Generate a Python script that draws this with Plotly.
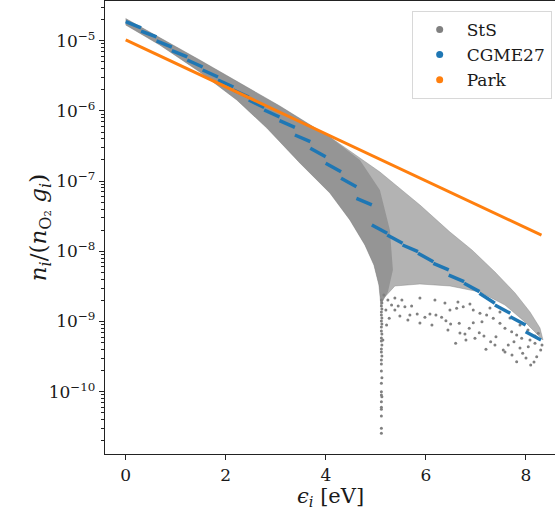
import numpy as np
import plotly.graph_objects as go

# ---------------- data ----------------
# StS cloud: outline of the dense region (energy eV, log10 population)
sts_upper_eps = [0.00, 1.48, 3.08, 4.08, 5.08, 5.88, 6.48, 6.92, 7.38, 7.78, 8.08, 8.28, 8.34]
sts_upper_log = [-4.684, -5.275, -5.930, -6.372, -6.870, -7.340, -7.725, -7.981, -8.294, -8.593, -8.864, -9.093, -9.264]
sts_lowright_eps = [7.98, 7.58, 7.08, 6.48, 5.88, 5.38, 5.16, 5.10]
sts_lowright_log = [-9.007, -8.765, -8.580, -8.494, -8.466, -8.494, -8.665, -8.765]
sts_lower_eps = [5.06, 4.96, 4.78, 4.48, 4.08, 3.48, 2.82, 2.22, 1.48, 0.68, 0.00]
sts_lower_log = [-8.480, -8.195, -7.910, -7.554, -7.170, -6.742, -6.244, -5.845, -5.446, -5.061, -4.776]
# denser core of the StS cloud (right edge of the core)
sts_core_eps = [4.68, 5.08, 5.28, 5.34, 5.24, 5.10]
sts_core_log = [-6.700, -7.127, -7.697, -8.267, -8.580, -8.765]
# isolated StS states in the sparse lower-right region
sts_sparse_eps = [5.266, 5.214, 5.314, 5.446, 5.580, 5.714, 5.826, 5.980, 6.080, 6.200, 6.314, 6.400,
                  6.494, 6.594, 6.666, 6.780, 6.866, 6.946, 6.980, 7.066, 7.120, 7.200, 7.294, 7.400,
                  7.546, 7.646, 7.760, 7.814, 7.934, 8.046, 8.094, 8.214, 8.294, 7.214, 7.346, 7.480,
                  7.580, 7.714, 7.814, 7.914, 8.080, 8.180, 8.246, 6.946, 7.080, 6.480, 6.614, 6.746,
                  5.680, 5.380, 6.800,
                  5.24, 5.38, 5.52, 5.88, 6.18, 6.38, 6.64, 6.88, 7.28, 7.48, 7.68, 7.88, 8.04, 8.18,
                  5.48, 5.64, 5.88, 6.12, 6.44, 6.68, 7.16, 7.38, 7.58, 7.72, 7.88, 8.00, 8.16, 8.32,
                  5.16, 5.20, 5.14]
sts_sparse_log = [-8.954, -9.050, -8.765, -8.779, -8.789, -8.779, -8.893, -8.940, -8.893, -8.907, -8.940, -8.989,
                  -9.036, -9.311, -9.026, -9.178, -9.097, -9.017, -9.239, -9.159, -9.003, -9.396, -9.288, -9.217,
                  -9.406, -9.335, -9.288, -9.573, -9.453, -9.359, -9.620, -9.501, -9.406, -8.907, -8.954, -9.026,
                  -9.097, -9.145, -9.192, -9.239, -9.264, -9.311, -9.168, -8.836, -8.883, -8.836, -8.812, -8.789,
                  -8.907, -8.836, -9.264,
                  -8.694, -8.665, -8.694, -8.665, -8.694, -8.737, -8.722, -8.751, -8.808, -8.865, -8.950, -9.050,
                  -9.121, -9.206,
                  -8.922, -8.979, -9.021, -9.050, -9.121, -9.164, -9.206, -9.335, -9.434, -9.477, -9.377, -9.520,
                  -9.577, -9.335,
                  -8.622, -8.836, -9.264]
# StS states near the dissociation limit (vertical tail)
sts_tail_eps = [5.11, 5.12, 5.11, 5.12, 5.11, 5.11, 5.12, 5.11, 5.12, 5.11, 5.11, 5.12, 5.11, 5.11,
                5.12, 5.11, 5.11, 5.12, 5.11, 5.11, 5.11, 5.12, 5.11, 5.11, 5.11, 5.12, 5.11, 5.11,
                5.11, 5.11, 5.11, 5.11]
sts_tail_log = [-8.694, -8.737, -8.779, -8.822, -8.865, -8.907, -8.950, -8.993, -9.036, -9.078, -9.135, -9.178,
                -9.235, -9.278, -9.335, -9.392, -9.434, -9.491, -9.549, -9.606, -9.705, -9.801, -9.880, -10.000,
                -10.047, -10.071, -10.142, -10.222, -10.251, -10.346, -10.521, -10.593]

# CGME27: 27 energy bins, population at start and end of each bin
cgme_edges = [0.000, 0.307, 0.615, 0.922, 1.230, 1.537, 1.844, 2.152, 2.459, 2.767, 3.074, 3.381, 3.689, 3.996,
              4.304, 4.611, 4.919, 5.226, 5.533, 5.841, 6.148, 6.456, 6.763, 7.070, 7.378, 7.685, 7.993, 8.300]
cgme_start_log = [-4.729, -4.862, -5.004, -5.140, -5.275, -5.417, -5.560, -5.702, -5.845, -5.987, -6.140, -6.343,
                  -6.533, -6.746, -6.960, -7.245, -7.625, -7.768, -7.910, -8.028, -8.171, -8.338, -8.456, -8.598,
                  -8.765, -8.932, -9.145]
cgme_end_log = [-4.819, -4.947, -5.090, -5.232, -5.375, -5.517, -5.660, -5.802, -5.952, -6.087, -6.234, -6.439,
                -6.652, -6.866, -7.080, -7.340, -7.744, -7.886, -8.006, -8.148, -8.266, -8.433, -8.575, -8.741,
                -8.883, -9.050, -9.264]

# Park (Boltzmann): straight line in log space
park_eps = [0.0, 8.31]
park_val = [1.03e-5, 1.70e-8]

# axis ticks
y_tick_exp = [-10, -9, -8, -7, -6, -5]
x_tick_vals = [0, 2, 4, 6, 8]

GRAY = "#808080"
BLUE = "#1f77b4"
ORANGE = "#ff7f0e"
FONT = "DejaVu Serif"

fig = go.Figure()

# outer StS region
poly_x = sts_upper_eps + sts_lowright_eps + sts_lower_eps
poly_y = list(10 ** np.array(sts_upper_log + sts_lowright_log + sts_lower_log))
fig.add_trace(go.Scatter(x=poly_x, y=poly_y, mode="lines", fill="toself",
                         fillcolor="rgba(128,128,128,0.6)", line=dict(width=0.6, color="rgba(128,128,128,0.7)"),
                         showlegend=False, hoverinfo="skip"))
# dense core
core_x = sts_upper_eps[:4] + sts_core_eps + sts_lower_eps
core_y = list(10 ** np.array(sts_upper_log[:4] + sts_core_log + sts_lower_log))
fig.add_trace(go.Scatter(x=core_x, y=core_y, mode="lines", fill="toself",
                         fillcolor="rgba(128,128,128,0.6)", line=dict(width=0),
                         showlegend=False, hoverinfo="skip"))
# sparse states
fig.add_trace(go.Scatter(x=sts_sparse_eps, y=10 ** np.array(sts_sparse_log), mode="markers",
                         marker=dict(size=3, color=GRAY), showlegend=False))
fig.add_trace(go.Scatter(x=sts_tail_eps, y=10 ** np.array(sts_tail_log), mode="markers",
                         marker=dict(size=3, color=GRAY), showlegend=False))

# CGME27 segments
cx, cy = [], []
for i in range(len(cgme_start_log)):
    cx += [cgme_edges[i], cgme_edges[i + 1], None]
    cy += [10 ** cgme_start_log[i], 10 ** cgme_end_log[i], None]
fig.add_trace(go.Scatter(x=cx, y=cy, mode="lines", line=dict(color=BLUE, width=3.5),
                         showlegend=False, connectgaps=False))

# Park
fig.add_trace(go.Scatter(x=park_eps, y=park_val, mode="lines", line=dict(color=ORANGE, width=3),
                         showlegend=False))

# legend entries (dots)
for name, col in [("StS", GRAY), ("CGME27", BLUE), ("Park", ORANGE)]:
    fig.add_trace(go.Scatter(x=[None], y=[None], mode="markers", name=name,
                             marker=dict(size=7, color=col)))

minor_vals = [k * 10.0 ** d for d in range(-11, -4) for k in range(2, 10)]

fig.update_layout(
    width=555, height=517,
    margin=dict(l=105, r=0, t=1, b=63),
    plot_bgcolor="white", paper_bgcolor="white",
    font=dict(family=FONT, size=17, color="#1a1a1a"),
    showlegend=True,
    legend=dict(x=0.9926, y=0.978, xanchor="right", yanchor="top",
                bgcolor="rgba(255,255,255,0.85)", bordercolor="#d8d8d8", borderwidth=1,
                font=dict(family=FONT, size=17), itemwidth=44, tracegroupgap=6),
    xaxis=dict(range=[-0.414, 8.58], tickvals=x_tick_vals, ticktext=[str(v) for v in x_tick_vals],
               ticks="outside", ticklen=5, tickwidth=1.2, tickcolor="#222",
               showline=True, linecolor="#222", linewidth=1.3, mirror=True,
               showgrid=False, zeroline=False, tickfont=dict(size=17)),
    yaxis=dict(type="log", range=[-10.8875, -4.4345],
               tickvals=[10.0 ** e for e in y_tick_exp],
               ticktext=["10<sup>\u2212%d</sup>" % (-e) for e in y_tick_exp],
               ticks="outside", ticklen=5, tickwidth=1.2, tickcolor="#222",
               minor=dict(tickvals=minor_vals, ticks="outside", ticklen=3, tickwidth=0.9, tickcolor="#222"),
               showline=True, linecolor="#222", linewidth=1.3, mirror=False,
               showgrid=False, zeroline=False, tickfont=dict(size=17)),
    annotations=[
        dict(text="<i>n<sub>i</sub></i>/(<i>n</i><sub>O\u2082</sub> <i>g<sub>i</sub></i>)",
             xref="paper", yref="paper", x=-0.145, y=0.5, textangle=-90, showarrow=False,
             font=dict(family=FONT, size=23), xanchor="center", yanchor="middle"),
        dict(text="<i>\u03f5<sub>i</sub></i> [eV]", xref="paper", yref="paper", x=0.5, y=-0.095,
             showarrow=False, font=dict(family=FONT, size=21), xanchor="center", yanchor="middle"),
    ],
)

fig.write_html("out.html", config={"displayModeBar": False},
               post_script="document.body.style.margin='0';document.body.style.overflow='hidden';")
